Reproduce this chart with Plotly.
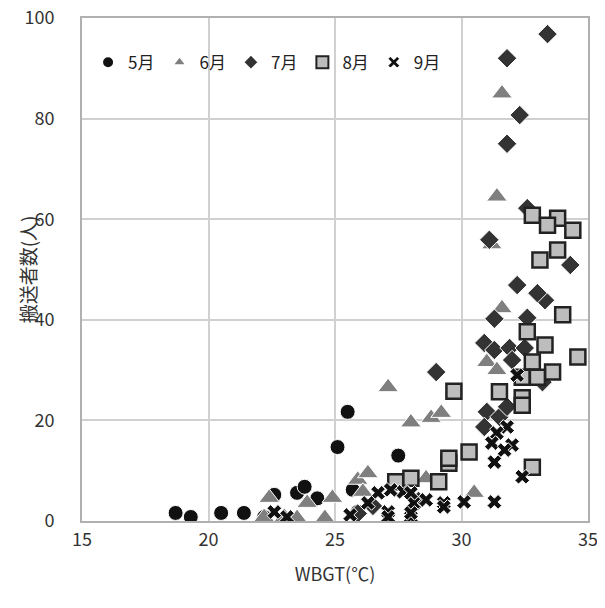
import plotly.graph_objects as go

# ---- data (WBGT, persons transported) ----
may_x = [18.7, 19.3, 20.5, 21.4, 22.2, 22.6, 23.5, 23.8, 24.3, 25.1, 25.5, 25.7, 25.9, 27.5]
may_y = [1.6, 0.8, 1.6, 1.6, 0.8, 5.2, 5.6, 6.8, 4.5, 14.7, 21.7, 6.2, 1.8, 13.0]

jun_x = [22.2, 22.4, 23.0, 23.5, 23.9, 24.6, 24.9, 25.9, 26.1, 26.3, 27.1, 28.0, 28.6, 28.8,
         29.2, 30.5, 31.0, 31.2, 31.4, 31.4, 31.6, 31.6]
jun_y = [0.8, 4.6, 0.8, 0.6, 3.6, 0.6, 4.6, 8.2, 5.8, 9.5, 26.6, 19.6, 8.5, 20.5,
         21.5, 5.6, 31.6, 55.0, 30.0, 64.5, 42.3, 85.0]

jul_x = [33.4, 31.8, 32.3, 31.8, 32.6, 31.1, 34.3, 32.2, 33.3, 33.0, 31.3, 32.6, 30.9, 31.3,
         31.9, 32.5, 32.0, 29.0, 31.0, 31.5, 30.9, 31.8, 33.2, 25.9, 26.5, 28.3]
jul_y = [96.8, 92.0, 80.7, 75.0, 62.2, 55.9, 50.9, 46.9, 43.9, 45.3, 40.2, 40.4, 35.4, 34.0,
         34.4, 34.4, 32.0, 29.6, 21.7, 20.7, 18.7, 22.7, 27.6, 1.5, 3.0, 4.0]

aug_x = [32.8, 33.8, 33.4, 34.4, 33.8, 33.1, 34.0, 32.6, 33.3, 34.6, 32.8, 33.6, 32.4, 33.0,
         32.4, 32.4, 31.5, 29.7, 30.3, 29.5, 29.5, 29.1, 32.8, 27.4, 28.0]
aug_y = [60.8, 60.2, 58.8, 57.8, 53.9, 51.9, 41.0, 37.6, 35.0, 32.6, 31.6, 29.6, 28.6, 28.6,
         24.5, 23.0, 25.7, 25.8, 13.7, 11.5, 12.5, 7.8, 10.7, 7.8, 8.5]

sep_x = [32.2, 31.8, 31.4, 31.2, 32.0, 31.7, 31.3, 32.4, 31.3, 30.1, 29.3, 29.3, 28.6, 28.1,
         28.0, 27.7, 27.2, 26.7, 27.1, 27.1, 26.3, 25.6, 22.6, 23.1, 28.0, 28.0]
sep_y = [29.0, 18.7, 17.5, 15.5, 15.1, 14.1, 11.7, 8.8, 3.8, 3.8, 3.6, 2.8, 4.2, 3.6,
         0.8, 5.8, 6.2, 5.6, 1.8, 0.8, 3.6, 1.2, 1.8, 0.8, 5.6, 1.6]

x_ticks = [15, 20, 25, 30, 35]
y_ticks = [0, 20, 40, 60, 80, 100]

FONT = "Noto Sans CJK JP, Liberation Sans, sans-serif"

fig = go.Figure()
fig.add_trace(go.Scatter(x=may_x, y=may_y, mode="markers", name="5月",
                         marker=dict(symbol="circle", size=15, color="#111111",
                                     line=dict(color="white", width=1))))
fig.add_trace(go.Scatter(x=jun_x, y=jun_y, mode="markers", name="6月",
                         marker=dict(symbol="triangle-up", size=18, color="#7f7f7f",
                                     line=dict(color="white", width=1))))
fig.add_trace(go.Scatter(x=jul_x, y=jul_y, mode="markers", name="7月",
                         marker=dict(symbol="diamond", size=15, color="#333333",
                                     line=dict(color="white", width=1))))
fig.add_trace(go.Scatter(x=aug_x, y=aug_y, mode="markers", name="8月",
                         marker=dict(symbol="square", size=15, color="#bdbdbd",
                                     line=dict(color="#222222", width=2.5))))
fig.add_trace(go.Scatter(x=sep_x, y=sep_y, mode="markers", name="9月",
                         marker=dict(symbol="x", size=13, color="#111111",
                                     line=dict(color="white", width=1))))

axis_common = dict(showgrid=True, gridcolor="#d0d0d0", gridwidth=2,
                   showline=True, linecolor="#b0b0b0", linewidth=2, mirror=True,
                   zeroline=False, ticks="", automargin=False, ticklabeloverflow="allow",
                   tickfont=dict(family=FONT, size=18, color="#333333"))

fig.update_xaxes(range=[15, 35], tickvals=x_ticks, ticklabelstandoff=1,
                 title=dict(text="WBGT(℃)", font=dict(family=FONT, size=18, color="#333333"),
                            standoff=19),
                 **axis_common)
fig.update_yaxes(range=[0, 100], tickvals=y_ticks, ticklabelstandoff=22,
                 **axis_common)

fig.update_layout(
    width=597, height=600,
    margin=dict(l=74, r=17, t=10, b=87),
    paper_bgcolor="white", plot_bgcolor="white",
    font=dict(family=FONT, color="#333333"),
    legend=dict(orientation="h", x=0.012, y=0.947, xanchor="left", yanchor="top",
                bgcolor="rgba(255,255,255,0)", font=dict(family=FONT, size=17, color="#222222"),
                itemwidth=30, itemsizing="constant", tracegroupgap=0),
    annotations=[dict(text="搬送者数(人)", xref="paper", yref="paper",
                      x=-0.107, y=0.5, xanchor="center", yanchor="middle",
                      textangle=-90, showarrow=False,
                      font=dict(family=FONT, size=19, color="#333333"))],
)

fig.write_html("out.html")
